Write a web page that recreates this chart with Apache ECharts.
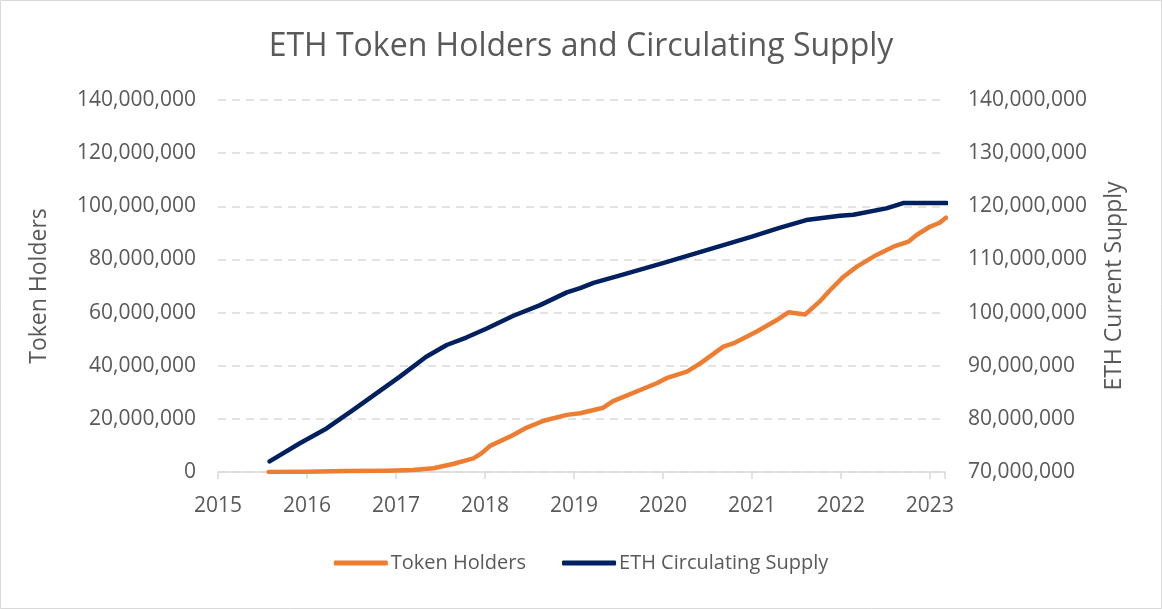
<!DOCTYPE html>
<html>
<head>
<meta charset="utf-8">
<title>ETH Token Holders and Circulating Supply</title>
<script src="https://cdn.jsdelivr.net/npm/echarts@6/dist/echarts.min.js"></script>
<style>
  html, body { margin: 0; padding: 0; background: #fff; }
  #chart { width: 1162px; height: 609px; }
</style>
</head>
<body>
<div id="chart"></div>
<script>
// values (year as decimal, values in millions)
var holderYears = [2015.57, 2016.0, 2016.45, 2016.9, 2017.19, 2017.42, 2017.64, 2017.87, 2017.96, 2018.06,
  2018.28, 2018.45, 2018.66, 2018.92, 2019.07, 2019.33, 2019.44, 2019.93, 2020.04, 2020.27,
  2020.42, 2020.68, 2020.79, 2021.05, 2021.28, 2021.41, 2021.60, 2021.76, 2021.88, 2022.03,
  2022.18, 2022.40, 2022.59, 2022.76, 2022.85, 2023.00, 2023.11, 2023.18];
var holderValues = [0, 0.1, 0.4, 0.5, 0.75, 1.4, 3.0, 5.1, 7.0, 9.9,
  13.3, 16.4, 19.3, 21.5, 22.1, 24.2, 26.7, 33.4, 35.3, 37.8,
  40.9, 47.2, 48.4, 52.8, 57.2, 60.1, 59.3, 64.1, 68.5, 73.5,
  77.3, 81.7, 84.8, 86.7, 89.2, 92.3, 93.8, 95.7];

var supplyYears = [2015.58, 2015.92, 2016.22, 2016.52, 2016.78, 2017.04, 2017.34, 2017.57, 2017.79, 2018.02,
  2018.32, 2018.62, 2018.92, 2019.07, 2019.22, 2019.50, 2020.0, 2020.5, 2021.0, 2021.3,
  2021.61, 2021.99, 2022.14, 2022.51, 2022.70, 2023.19];
var supplyValues = [72.0, 75.4, 78.2, 81.7, 84.8, 87.9, 91.7, 93.9, 95.3, 97.0,
  99.4, 101.4, 103.8, 104.6, 105.6, 106.9, 109.3, 111.8, 114.3, 115.9,
  117.4, 118.2, 118.4, 119.6, 120.6, 120.6];

var seriesNames = ['Token Holders', 'ETH Circulating Supply'];

function pairs(xs, ys) {
  var out = [];
  for (var i = 0; i < xs.length; i++) {
    out.push([xs[i], ys[i] * 1e6]);
  }
  return out;
}

function fmt(v) {
  return Math.round(v).toLocaleString('en-US');
}

var grey = '#595959';
var font = 'Open Sans';

var chart = echarts.init(document.getElementById('chart'), null, { renderer: 'canvas' });

chart.setOption({
  backgroundColor: '#fff',
  textStyle: { fontFamily: font, color: grey },
  title: {
    text: 'ETH Token Holders and Circulating Supply',
    left: 'center',
    top: 26,
    textStyle: { fontFamily: font, fontSize: 32, fontWeight: 'normal', color: grey }
  },
  legend: {
    bottom: 31,
    left: 'center',
    itemWidth: 54,
    itemHeight: 5,
    itemGap: 36,
    icon: 'roundRect',
    textStyle: { fontFamily: font, fontSize: 20, color: grey, padding: [0, 0, 0, -2] },
    data: seriesNames
  },
  graphic: [{
    type: 'rect',
    shape: { x: 0.5, y: 0.5, width: 1161, height: 608 },
    style: { fill: 'none', stroke: '#d9d9d9', lineWidth: 1 },
    silent: true
  }],
  grid: { left: 218, right: 217, top: 100, bottom: 137 },
  xAxis: {
    type: 'value',
    min: 2015,
    max: 2023.17,
    interval: 1,
    axisLine: { lineStyle: { color: '#d9d9d9', width: 1.5 } },
    axisTick: { show: true, length: 7, lineStyle: { color: '#d9d9d9', width: 1.5 } },
    splitLine: { show: false },
    axisLabel: {
      margin: 24,
      fontSize: 21,
      color: grey,
      fontFamily: font,
      formatter: function (v) {
        return Math.abs(v - Math.round(v)) < 1e-6 ? String(Math.round(v)) : '';
      }
    }
  },
  yAxis: [
    {
      type: 'value',
      name: 'Token Holders',
      nameLocation: 'middle',
      nameRotate: 90,
      nameGap: 167,
      nameTextStyle: { fontFamily: font, fontSize: 23, color: grey },
      min: 0,
      max: 140000000,
      interval: 20000000,
      axisLine: { show: false },
      axisTick: { show: false },
      axisLabel: { margin: 22, fontSize: 21, color: grey, fontFamily: font, formatter: fmt },
      splitLine: { lineStyle: { color: '#d9d9d9', type: [8, 6], width: 1.5 } }
    },
    {
      type: 'value',
      name: 'ETH Current Supply',
      nameLocation: 'middle',
      nameRotate: 90,
      nameGap: 158,
      nameTextStyle: { fontFamily: font, fontSize: 23, color: grey },
      min: 70000000,
      max: 140000000,
      interval: 10000000,
      axisLine: { show: false },
      axisTick: { show: false },
      axisLabel: { margin: 23, fontSize: 21, color: grey, fontFamily: font, formatter: fmt },
      splitLine: { show: false }
    }
  ],
  series: [
    {
      name: seriesNames[0],
      type: 'line',
      yAxisIndex: 0,
      showSymbol: false,
      symbol: 'none',
      color: '#ED7D31',
      lineStyle: { color: '#ED7D31', width: 4.5, cap: 'round', join: 'round' },
      data: pairs(holderYears, holderValues)
    },
    {
      name: seriesNames[1],
      type: 'line',
      yAxisIndex: 1,
      showSymbol: false,
      symbol: 'none',
      color: '#002060',
      lineStyle: { color: '#002060', width: 4.5, cap: 'round', join: 'round' },
      data: pairs(supplyYears, supplyValues)
    }
  ]
});
</script>
</body>
</html>
